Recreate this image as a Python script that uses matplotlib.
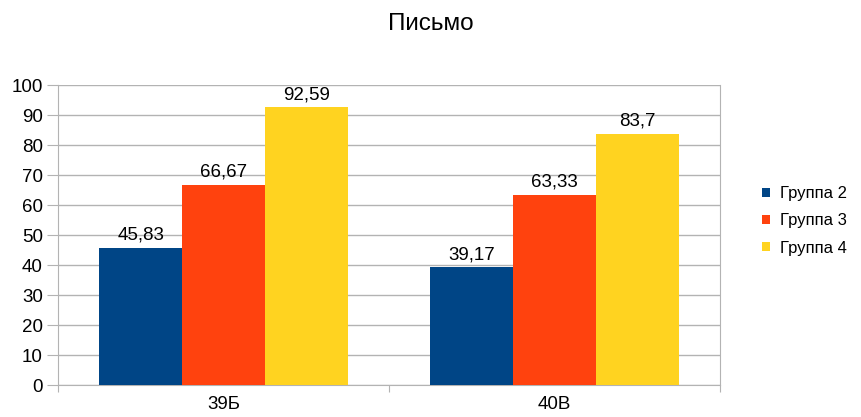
import numpy as np
import matplotlib.pyplot as plt

plt.rcParams['font.family'] = ['Liberation Sans', 'DejaVu Sans']

categories = ['39Б', '40В']
groups = ['Группа 2', 'Группа 3', 'Группа 4']
values = {
    'Группа 2': [45.83, 39.17],
    'Группа 3': [66.67, 63.33],
    'Группа 4': [92.59, 83.7],
}
colors = ['#004586', '#ff420e', '#ffd320']

fig = plt.figure(figsize=(8.61, 4.17), dpi=100)
ax = fig.add_axes([58 / 861, 32 / 417, 662 / 861, 300 / 417])

x = np.arange(len(categories))
width = 0.25
for i, (g, c) in enumerate(zip(groups, colors)):
    pos = x + (i - 1) * width
    bars = ax.bar(pos, values[g], width, color=c, label=g, zorder=3)
    for b, v in zip(bars, values[g]):
        txt = f'{v:g}'.replace('.', ',')
        ax.annotate(txt, (b.get_x() + b.get_width() / 2, v), xytext=(0, 3),
                    textcoords='offset points', ha='center', va='bottom', fontsize=13.5)

ax.set_xlim(-0.5, 1.5)
ax.set_ylim(0, 100)
ax.set_yticks(range(0, 101, 10))
ax.set_xticks([-0.5, 0.5, 1.5], minor=False)
ax.set_xticklabels([])
ax.set_xticks(x, minor=True)
ax.set_xticklabels(categories, minor=True)
ax.tick_params(axis='x', which='minor', length=0, pad=8, labelsize=13.5)
ax.tick_params(axis='x', which='major', length=5, color='#b3b3b3')
ax.tick_params(axis='y', length=8, color='#b3b3b3', labelsize=13.5, pad=3)
ax.grid(axis='y', color='#b3b3b3', linewidth=1, zorder=0)
for s in ['left', 'right', 'bottom']:
    ax.spines[s].set_color('#b3b3b3')
ax.spines['top'].set_visible(False)

fig.suptitle('Письмо', y=0.968, fontsize=17.5)
ax.legend(loc='center left', bbox_to_anchor=(1.041, 0.547), frameon=False,
          fontsize=12, handlelength=0.45, handleheight=0.45, handletextpad=0.6,
          labelspacing=0.73)

plt.savefig('out.png', dpi=100)
